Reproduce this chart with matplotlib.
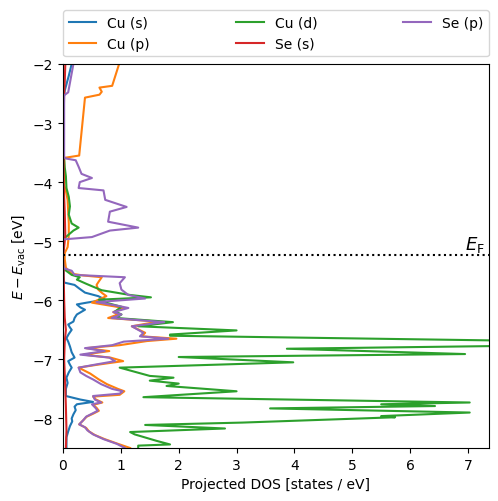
import numpy as np
import matplotlib.pyplot as plt

# energies [eV] and projected DOS values
cu_s_E = [-2.0, -2.2, -2.45, -2.6, -5.0, -5.6, -5.70, -5.74, -5.80, -5.87, -5.93, -5.99, -6.04, -6.07,
          -6.12, -6.16, -6.24, -6.30, -6.36, -6.41, -6.46, -6.50, -6.57, -6.64, -6.70, -6.78, -6.88,
          -6.97, -7.03, -7.09, -7.14, -7.22, -7.31, -7.40, -7.50, -7.62, -7.68, -7.72, -7.76, -7.80,
          -7.86, -7.93, -8.00, -8.05, -8.13, -8.22, -8.32, -8.5]
cu_s_dos = [0.15, 0.10, 0.03, 0.01, 0.01, 0.01, 0.02, 0.20, 0.28, 0.38, 0.61, 0.73, 0.41, 0.24,
            0.30, 0.38, 0.24, 0.20, 0.18, 0.09, 0.12, 0.15, 0.10, 0.06, 0.09, 0.12, 0.15,
            0.20, 0.09, 0.12, 0.15, 0.10, 0.06, 0.08, 0.05, 0.05, 0.30, 0.52, 0.24, 0.20,
            0.22, 0.18, 0.15, 0.16, 0.12, 0.09, 0.06, 0.06]

cu_p_E = [-2.0, -2.37, -2.40, -2.47, -2.52, -2.57, -3.55, -3.59, -4.05, -4.15, -4.3, -4.5, -4.7, -4.9,
          -5.1, -5.2, -5.3, -5.45, -5.55, -5.58, -5.61, -5.68, -5.74, -5.82, -5.88, -5.93, -6.04,
          -6.10, -6.13, -6.20, -6.24, -6.30, -6.36, -6.44, -6.55, -6.61, -6.65, -6.69, -6.76, -6.81,
          -6.86, -6.92, -6.97, -7.03, -7.09, -7.14, -7.24, -7.34, -7.42, -7.50, -7.54, -7.60, -7.63,
          -7.68, -7.73, -7.77, -7.82, -7.87, -7.92, -7.97, -8.03, -8.10, -8.16, -8.22, -8.28, -8.35,
          -8.43, -8.5]
cu_p_dos = [0.97, 0.85, 0.63, 0.67, 0.63, 0.38, 0.28, 0.02, 0.02, 0.05, 0.08, 0.09, 0.10, 0.10,
            0.08, 0.03, 0.03, 0.05, 0.15, 0.35, 0.67, 0.62, 0.58, 0.61, 0.68, 0.75, 0.50,
            0.87, 1.05, 0.87, 0.95, 0.78, 1.65, 1.19, 1.42, 1.36, 1.96, 1.45, 0.98, 0.40,
            0.80, 0.35, 0.82, 1.04, 0.60, 0.27, 0.47, 0.62, 0.76, 0.95, 1.06, 0.98, 0.52,
            0.57, 0.68, 0.52, 0.58, 0.62, 0.52, 0.41, 0.35, 0.28, 0.40, 0.45, 0.55, 0.72,
            0.95, 1.16]

cu_d_E = [-2.0, -3.55, -3.6, -3.75, -3.9, -4.1, -4.25, -4.41, -4.55, -4.70, -4.77, -4.82, -4.87,
          -4.97, -5.46, -5.57, -5.61, -5.65, -5.72, -5.77, -5.83, -5.91, -5.95, -5.99, -6.05, -6.11,
          -6.19, -6.24, -6.30, -6.37, -6.44, -6.51, -6.58, -6.60, -6.73, -6.82, -6.91, -6.96, -7.05,
          -7.14, -7.28, -7.31, -7.36, -7.41, -7.45, -7.54, -7.64, -7.73, -7.76, -7.79, -7.83, -7.90,
          -7.96, -7.98, -8.07, -8.11, -8.17, -8.23, -8.27, -8.38, -8.44, -8.46, -8.5]
cu_d_dos = [0.0, 0.0, 0.02, 0.03, 0.05, 0.06, 0.10, 0.12, 0.10, 0.15, 0.27, 0.18, 0.12,
            0.0, 0.0, 0.15, 0.29, 0.24, 0.40, 0.52, 0.67, 1.16, 1.52, 0.62, 0.78, 1.01,
            0.90, 1.01, 0.92, 1.90, 1.30, 3.00, 1.85, 1.85, 11.0, 3.87, 6.95, 2.00, 3.98,
            0.98, 1.50, 1.91, 1.50, 2.00, 1.79, 3.00, 1.39, 7.03, 5.50, 6.43, 3.58, 7.03,
            5.50, 5.74, 3.10, 1.42, 2.80, 1.16, 1.24, 1.62, 1.85, 1.30, 1.30]

se_s_E = [-2.0, -2.3, -2.5, -3.0, -4.0, -4.5, -4.9, -5.1, -5.24, -5.5, -6.0, -6.3, -6.5, -6.7,
          -7.0, -7.5, -7.8, -8.2, -8.5]
se_s_dos = [0.04, 0.03, 0.02, 0.01, 0.01, 0.03, 0.04, 0.02, 0.0, 0.01, 0.02, 0.03, 0.05, 0.03,
            0.02, 0.04, 0.05, 0.06, 0.05]

se_p_E = [-2.0, -2.48, -2.53, -3.58, -3.6, -3.63, -3.74, -3.86, -3.93, -4.0, -4.10, -4.14, -4.30,
          -4.42, -4.50, -4.67, -4.77, -4.82, -4.93, -4.97, -5.42, -5.46, -5.50, -5.57, -5.61, -5.71,
          -5.82, -5.91, -5.97, -6.03, -6.10, -6.13, -6.20, -6.24, -6.30, -6.37, -6.44, -6.55, -6.61,
          -6.65, -6.70, -6.76, -6.81, -6.86, -6.92, -6.97, -7.03, -7.09, -7.14, -7.22, -7.28, -7.34,
          -7.42, -7.50, -7.54, -7.58, -7.62, -7.68, -7.73, -7.76, -7.82, -7.87, -7.92, -7.97, -8.03,
          -8.10, -8.15, -8.20, -8.27, -8.35, -8.43, -8.5]
se_p_dos = [0.18, 0.09, 0.02, 0.02, 0.05, 0.22, 0.27, 0.32, 0.50, 0.29, 0.27, 0.70, 0.73,
            1.10, 0.81, 0.78, 1.30, 0.81, 0.50, 0.0, 0.0, 0.02, 0.15, 0.20, 1.07, 0.98,
            1.01, 1.13, 1.42, 0.58, 0.98, 1.13, 0.87, 1.01, 0.84, 1.75, 1.19, 1.39, 1.33,
            1.82, 1.05, 0.85, 0.38, 0.72, 0.30, 0.80, 0.90, 0.55, 0.27, 0.30, 0.40, 0.52,
            0.66, 0.85, 1.03, 0.98, 0.52, 0.55, 0.66, 0.50, 0.56, 0.60, 0.50, 0.40, 0.35,
            0.28, 0.38, 0.42, 0.52, 0.70, 0.93, 1.07]

E_fermi = -5.24

fig = plt.figure(figsize=(4.98, 5.02), dpi=100)
ax = fig.add_axes([0.1265, 0.1056, 0.855, 0.765])

ax.plot(cu_s_dos, cu_s_E, label='Cu (s)')
ax.plot(cu_p_dos, cu_p_E, label='Cu (p)')
ax.plot(cu_d_dos, cu_d_E, label='Cu (d)')
ax.plot(se_s_dos, se_s_E, label='Se (s)')
ax.plot(se_p_dos, se_p_E, label='Se (p)')

ax.axhline(E_fermi, color='black', linestyle=':')
ax.text(7.3, E_fermi + 0.02, r'$E_\mathrm{F}$', ha='right', va='bottom', fontsize=13)

ax.set_xlim(0, 7.36)
ax.set_ylim(-8.5, -2)
ax.set_xlabel('Projected DOS [states / eV]')
ax.set_ylabel(r'$E - E_\mathrm{vac}$ [eV]')
ax.legend(bbox_to_anchor=(0, 1.02, 1, 0.102), loc='lower left', ncol=3,
          mode='expand', borderaxespad=0)

fig.savefig('out.png', dpi=100)
